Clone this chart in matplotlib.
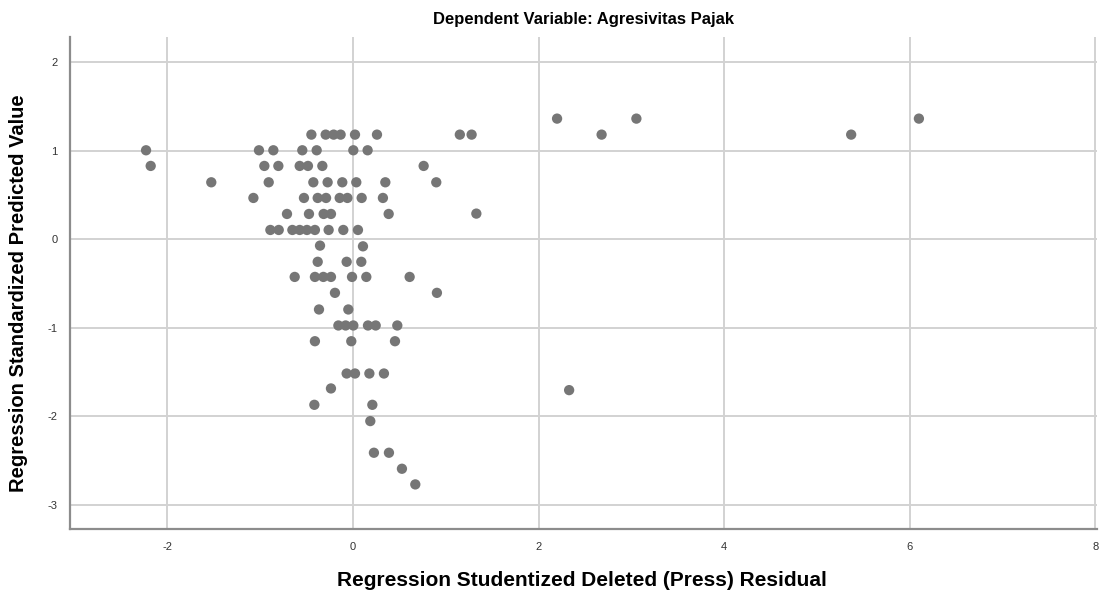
import matplotlib.pyplot as plt

# Studentized deleted residual (x) vs standardized predicted value (y)
resid = [
    -0.448, -0.294, -0.208, -0.133, 0.022, 0.259, 1.152, 1.279,
    2.20, 3.055, 2.68, 5.37, 6.10,
    -2.23, -1.013, -0.858, -0.546, -0.391, 0.004, 0.158,
    -2.18, -0.955, -0.804, -0.574, -0.485, -0.33, 0.762,
    -1.527, -0.908, -0.427, -0.273, -0.115, 0.036, 0.349, 0.898,
    -1.073, -0.528, -0.38, -0.29, -0.143, -0.06, 0.094, 0.323,
    -0.711, -0.474, -0.316, -0.237, 0.385, 1.33,
    -0.89, -0.80, -0.653, -0.574, -0.496, -0.41, -0.262, -0.104, 0.054,
    -0.355, 0.108,
    -0.38, -0.068, 0.09,
    -0.628, -0.41, -0.319, -0.237, -0.01, 0.144, 0.611,
    -0.194, 0.905,
    -0.366, -0.05,
    -0.157, -0.079, 0.004, 0.162, 0.245, 0.478,
    -0.41, -0.018, 0.453,
    -0.068, 0.022, 0.177, 0.334,
    -0.237, 2.33,
    -0.416, 0.209,
    0.187,
    0.226, 0.388,
    0.528,
    0.672,
]
predicted = [
    1.183, 1.183, 1.183, 1.183, 1.183, 1.183, 1.183, 1.183,
    1.364, 1.364, 1.183, 1.183, 1.364,
    1.006, 1.006, 1.006, 1.006, 1.006, 1.006, 1.006,
    0.829, 0.829, 0.829, 0.829, 0.829, 0.829, 0.829,
    0.644, 0.644, 0.644, 0.644, 0.644, 0.644, 0.644, 0.644,
    0.467, 0.467, 0.467, 0.467, 0.467, 0.467, 0.467, 0.467,
    0.286, 0.286, 0.286, 0.286, 0.286, 0.29,
    0.105, 0.105, 0.105, 0.105, 0.105, 0.105, 0.105, 0.105, 0.105,
    -0.072, -0.08,
    -0.255, -0.255, -0.255,
    -0.426, -0.426, -0.426, -0.426, -0.426, -0.426, -0.426,
    -0.606, -0.606,
    -0.794, -0.794,
    -0.975, -0.975, -0.975, -0.975, -0.975, -0.975,
    -1.153, -1.153, -1.153,
    -1.518, -1.518, -1.518, -1.518,
    -1.687, -1.706,
    -1.872, -1.872,
    -2.056,
    -2.414, -2.414,
    -2.595,
    -2.772,
]

x_ticks = [-2, 0, 2, 4, 6, 8]
y_ticks = [-3, -2, -1, 0, 1, 2]

plt.rcParams["font.family"] = ["Liberation Sans", "DejaVu Sans"]
plt.rcParams["axes.unicode_minus"] = False

fig = plt.figure(figsize=(11.02, 5.99), dpi=100)
ax = fig.add_axes([0.0635, 0.1163, 0.932, 0.8224])

ax.scatter(resid, predicted, s=55, color="#767676", edgecolors="none", zorder=3)

ax.set_xlim(-3.05, 8.02)
ax.set_ylim(-3.28, 2.29)
ax.set_xticks(x_ticks)
ax.set_yticks(y_ticks)
ax.grid(True, color="#d2d2d2", linewidth=1.4)
ax.set_axisbelow(True)

for side in ("top", "right"):
    ax.spines[side].set_visible(False)
for side in ("left", "bottom"):
    ax.spines[side].set_color("#8c8c8c")
    ax.spines[side].set_linewidth(1.6)

ax.tick_params(length=0, labelsize=8, colors="#333333", pad=9)

ax.set_title("Dependent Variable: Agresivitas Pajak", fontsize=12,
             fontweight="bold", pad=9)
ax.set_xlabel("Regression Studentized Deleted (Press) Residual", fontsize=15,
              fontweight="bold")
ax.set_ylabel("Regression Standardized Predicted Value", fontsize=14.5,
              fontweight="bold")
ax.xaxis.set_label_coords(0.498, -0.085)
ax.yaxis.set_label_coords(-0.041, 0.479)

fig.savefig("out.png", dpi=100)
